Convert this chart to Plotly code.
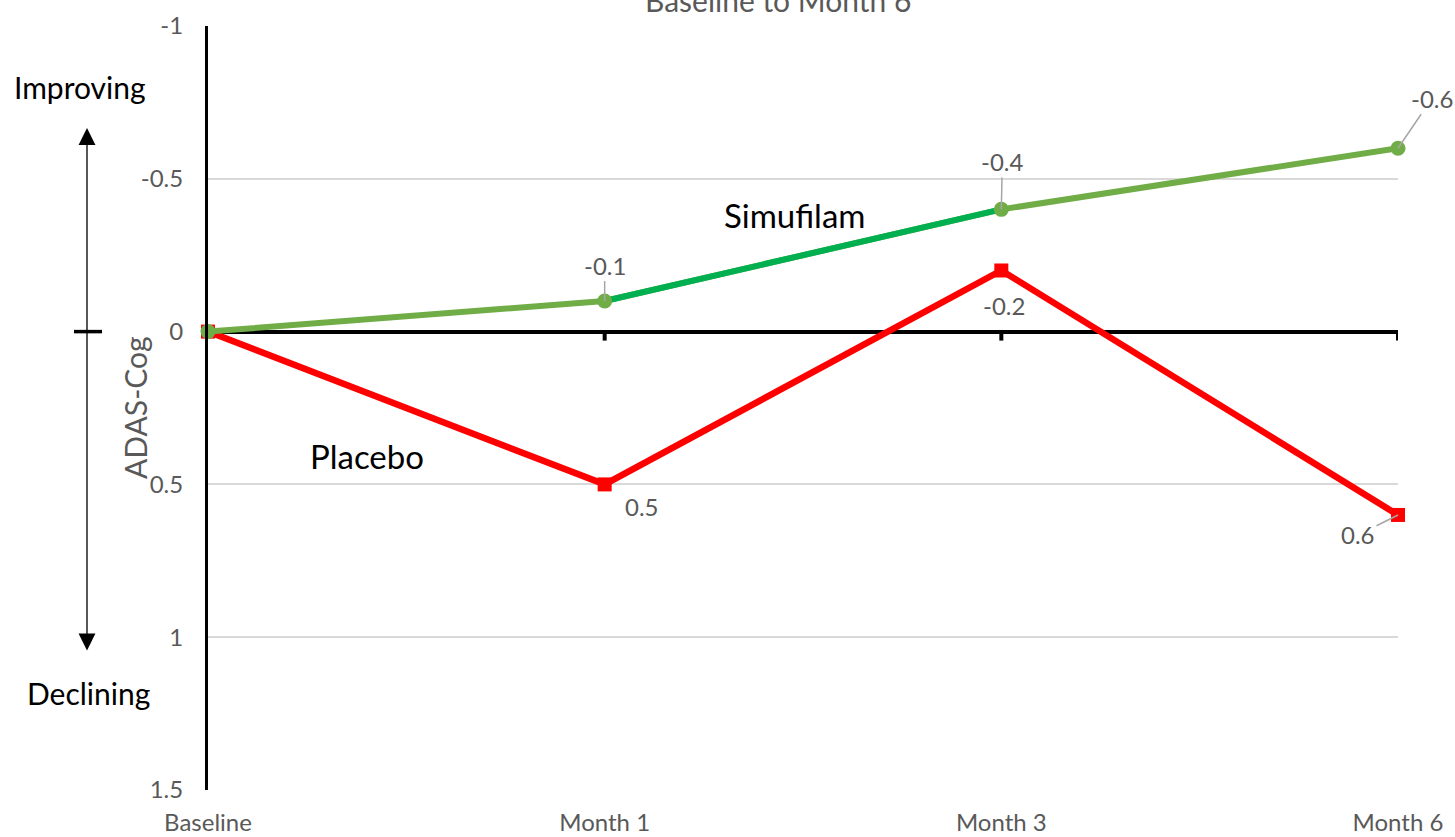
import plotly.graph_objects as go

# ---- data ----
categories = ["Baseline", "Month 1", "Month 3", "Month 6"]
simufilam = [0, -0.1, -0.4, -0.6]
placebo = [0, 0.5, -0.2, 0.6]
y_ticks = [-1, -0.5, 0, 0.5, 1, 1.5]
y_tick_labels = ["-1", "-0.5", "0", "0.5", "1", "1.5"]
title_text = "Baseline to Month 6"

FONT = "Lato"
GRAY = "#595959"
LIGHT_GREEN = "#70AD47"
DARK_GREEN = "#00B050"
RED = "#FF0000"

x_idx = list(range(len(categories)))

# plot area geometry (pixels) used to convert decoration positions to paper coords
L, R, T, B = 208, 1398, 26, 790
def px(x):
    return (x - L) / (R - L)
def py(y):
    return (B - y) / (B - T)

fig = go.Figure()

# Placebo (drawn first, under green)
fig.add_trace(go.Scatter(
    x=x_idx, y=placebo, mode="lines+markers", name="Placebo",
    line=dict(color=RED, width=6.5),
    marker=dict(symbol="square", size=14, color=RED),
    cliponaxis=False, showlegend=False,
))
# Simufilam main
fig.add_trace(go.Scatter(
    x=x_idx, y=simufilam, mode="lines", name="Simufilam",
    line=dict(color=LIGHT_GREEN, width=6),
    cliponaxis=False, showlegend=False,
))
# darker middle segment (Month 1 -> Month 3)
fig.add_trace(go.Scatter(
    x=x_idx[1:3], y=simufilam[1:3], mode="lines",
    line=dict(color=DARK_GREEN, width=6),
    cliponaxis=False, showlegend=False, hoverinfo="skip",
))
fig.add_trace(go.Scatter(
    x=x_idx, y=simufilam, mode="markers",
    marker=dict(symbol="circle", size=15, color=LIGHT_GREEN),
    cliponaxis=False, showlegend=False,
))

annotations = []
LBL = dict(family=FONT, size=24, color=GRAY)

# data labels - Simufilam (with leader lines)
sim_offsets = {1: (0, -36), 2: (1, -48), 3: (34, -50)}
for i, (ax, ay) in sim_offsets.items():
    annotations.append(dict(
        x=x_idx[i], y=simufilam[i], xref="x", yref="y",
        text=f"{simufilam[i]:g}", showarrow=True, arrowhead=0,
        arrowcolor="#A6A6A6", arrowwidth=1.5, ax=ax, ay=ay,
        xanchor="center", yanchor="middle", font=LBL,
    ))
# data labels - Placebo
pla_shift = {1: (37, -22), 2: (3, -35)}
for i, (xs, ys) in pla_shift.items():
    annotations.append(dict(
        x=x_idx[i], y=placebo[i], xref="x", yref="y",
        text=f"{placebo[i]:g}", showarrow=False, xshift=xs, yshift=ys,
        xanchor="center", yanchor="middle", font=LBL,
    ))
annotations.append(dict(
    x=x_idx[3], y=placebo[3], xref="x", yref="y",
    text=f"{placebo[3]:g}", showarrow=True, arrowhead=0,
    arrowcolor="#A6A6A6", arrowwidth=1.5, ax=-40, ay=20,
    xanchor="center", yanchor="middle", font=LBL,
))

def label(x, y, text, size, color="black", **kw):
    d = dict(x=px(x), y=py(y), xref="paper", yref="paper", text=text,
             showarrow=False, xanchor="center", yanchor="middle",
             font=dict(family=FONT, size=size, color=color))
    d.update(kw)
    return d

# series names
annotations.append(label(794, 215, "Simufilam", 33))
annotations.append(label(367, 456, "Placebo", 33))

# left side direction labels
annotations.append(label(80, 87, "Improving", 30))
annotations.append(label(88, 693, "Declining", 30))

# double-headed arrow
annotations.append(dict(x=px(87), y=py(128), xref="paper", yref="paper",
                        ax=0, ay=652 - 128, axref="pixel", ayref="pixel",
                        text="", showarrow=True, arrowhead=2, startarrowhead=2,
                        arrowside="end+start", arrowsize=2.6, startarrowsize=2.6,
                        arrowwidth=1.3, arrowcolor="black", standoff=0, startstandoff=0))

# axis title
annotations.append(label(135, 408, "ADAS-Cog", 30, GRAY, textangle=-90))

# chart title (cut off at top, as in the source image)
annotations.append(label(778, 20, title_text, 30, GRAY, yanchor="bottom"))

shapes = []
# crossbar on the arrow at zero
shapes.append(dict(type="line", xref="paper", yref="y",
                   x0=px(74), x1=px(102), y0=0, y1=0,
                   line=dict(color="black", width=3.5)))
# tick marks under the zero line
for i in x_idx[1:]:
    shapes.append(dict(type="line", xref="x", yref="y", ysizemode="pixel",
                       yanchor=0, x0=i, x1=i, y0=0, y1=-9,
                       line=dict(color="black", width=4), layer="below"))

fig.update_layout(
    width=1455, height=837,
    margin=dict(l=L, r=1455 - R, t=T, b=837 - B, autoexpand=False),
    plot_bgcolor="white", paper_bgcolor="white",
    annotations=annotations, shapes=shapes,
    font=dict(family=FONT, color=GRAY),
    xaxis=dict(
        range=[0, len(categories) - 1], tickvals=x_idx, ticktext=categories,
        showgrid=False, zeroline=False, showline=False, ticks="",
        tickfont=dict(family=FONT, size=24, color=GRAY),
        ticklabelstandoff=16, automargin=False,
    ),
    yaxis=dict(
        range=[y_ticks[-1], y_ticks[0]], tickvals=y_ticks, ticktext=y_tick_labels,
        showgrid=True, gridcolor="#D9D9D9", gridwidth=2,
        zeroline=True, zerolinecolor="black", zerolinewidth=4,
        showline=True, linecolor="black", linewidth=3, ticks="",
        tickfont=dict(family=FONT, size=24, color=GRAY),
        ticklabelstandoff=17, automargin=False,
    ),
    hovermode=False,
)

fig.write_html("out.html")
